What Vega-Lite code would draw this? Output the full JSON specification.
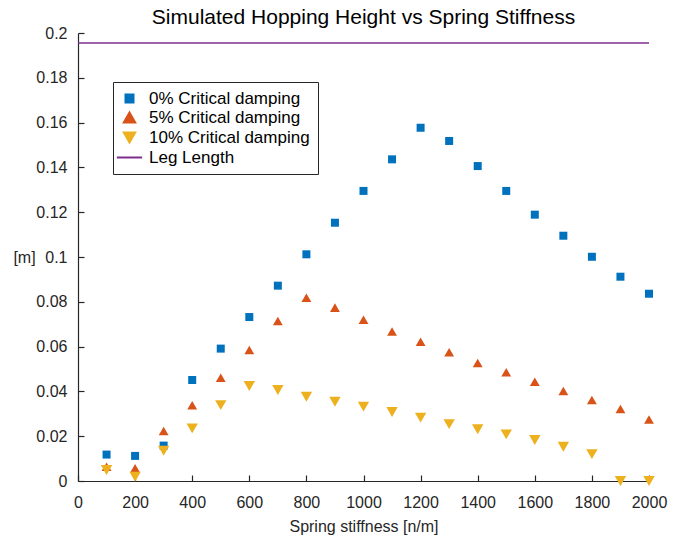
{
  "$schema": "https://vega.github.io/schema/vega-lite/v6.json",
  "autosize": {"type": "none"},
  "width": 571,
  "height": 448,
  "padding": {"left": 78, "top": 33, "right": 31, "bottom": 56},
  "background": "white",
  "config": {
    "font": "Liberation Sans",
    "view": {"stroke": null},
    "axis": {"grid": false, "domainColor": "#262626", "tickColor": "#262626", "labelColor": "#262626", "titleColor": "#262626", "labelFontSize": 16, "titleFontSize": 16, "titleFontWeight": "normal", "domainWidth": 1.2, "tickWidth": 1.2}
  },
  "title": {"text": "Simulated Hopping Height vs Spring Stiffness", "fontSize": 21, "fontWeight": "normal", "color": "#000000", "offset": -3, "anchor": "middle"},
  "data": {"values": [
    {"series": "0% Critical damping", "k": 100, "h": 0.0118},
    {"series": "0% Critical damping", "k": 200, "h": 0.0112},
    {"series": "0% Critical damping", "k": 300, "h": 0.0158},
    {"series": "0% Critical damping", "k": 400, "h": 0.0451},
    {"series": "0% Critical damping", "k": 500, "h": 0.0591},
    {"series": "0% Critical damping", "k": 600, "h": 0.0732},
    {"series": "0% Critical damping", "k": 700, "h": 0.0872},
    {"series": "0% Critical damping", "k": 800, "h": 0.1012},
    {"series": "0% Critical damping", "k": 900, "h": 0.1153},
    {"series": "0% Critical damping", "k": 1000, "h": 0.1295},
    {"series": "0% Critical damping", "k": 1100, "h": 0.1436},
    {"series": "0% Critical damping", "k": 1200, "h": 0.1577},
    {"series": "0% Critical damping", "k": 1300, "h": 0.1518},
    {"series": "0% Critical damping", "k": 1400, "h": 0.1406},
    {"series": "0% Critical damping", "k": 1500, "h": 0.1295},
    {"series": "0% Critical damping", "k": 1600, "h": 0.1189},
    {"series": "0% Critical damping", "k": 1700, "h": 0.1095},
    {"series": "0% Critical damping", "k": 1800, "h": 0.1001},
    {"series": "0% Critical damping", "k": 1900, "h": 0.0912},
    {"series": "0% Critical damping", "k": 2000, "h": 0.0836},
    {"series": "5% Critical damping", "k": 100, "h": 0.0064},
    {"series": "5% Critical damping", "k": 200, "h": 0.0057},
    {"series": "5% Critical damping", "k": 300, "h": 0.0223},
    {"series": "5% Critical damping", "k": 400, "h": 0.0338},
    {"series": "5% Critical damping", "k": 500, "h": 0.0461},
    {"series": "5% Critical damping", "k": 600, "h": 0.0585},
    {"series": "5% Critical damping", "k": 700, "h": 0.0714},
    {"series": "5% Critical damping", "k": 800, "h": 0.0818},
    {"series": "5% Critical damping", "k": 900, "h": 0.0774},
    {"series": "5% Critical damping", "k": 1000, "h": 0.0720},
    {"series": "5% Critical damping", "k": 1100, "h": 0.0667},
    {"series": "5% Critical damping", "k": 1200, "h": 0.0622},
    {"series": "5% Critical damping", "k": 1300, "h": 0.0575},
    {"series": "5% Critical damping", "k": 1400, "h": 0.0527},
    {"series": "5% Critical damping", "k": 1500, "h": 0.0485},
    {"series": "5% Critical damping", "k": 1600, "h": 0.0443},
    {"series": "5% Critical damping", "k": 1700, "h": 0.0402},
    {"series": "5% Critical damping", "k": 1800, "h": 0.0362},
    {"series": "5% Critical damping", "k": 1900, "h": 0.0321},
    {"series": "5% Critical damping", "k": 2000, "h": 0.0275},
    {"series": "10% Critical damping", "k": 100, "h": 0.0049},
    {"series": "10% Critical damping", "k": 200, "h": 0.0019},
    {"series": "10% Critical damping", "k": 300, "h": 0.0135},
    {"series": "10% Critical damping", "k": 400, "h": 0.0235},
    {"series": "10% Critical damping", "k": 500, "h": 0.0339},
    {"series": "10% Critical damping", "k": 600, "h": 0.0424},
    {"series": "10% Critical damping", "k": 700, "h": 0.0406},
    {"series": "10% Critical damping", "k": 800, "h": 0.0376},
    {"series": "10% Critical damping", "k": 900, "h": 0.0354},
    {"series": "10% Critical damping", "k": 1000, "h": 0.0332},
    {"series": "10% Critical damping", "k": 1100, "h": 0.0308},
    {"series": "10% Critical damping", "k": 1200, "h": 0.0283},
    {"series": "10% Critical damping", "k": 1300, "h": 0.0254},
    {"series": "10% Critical damping", "k": 1400, "h": 0.0231},
    {"series": "10% Critical damping", "k": 1500, "h": 0.0208},
    {"series": "10% Critical damping", "k": 1600, "h": 0.0183},
    {"series": "10% Critical damping", "k": 1700, "h": 0.0153},
    {"series": "10% Critical damping", "k": 1800, "h": 0.0120},
    {"series": "10% Critical damping", "k": 1900, "h": 0.0},
    {"series": "10% Critical damping", "k": 2000, "h": 0.0},
    {"series": "Leg Length", "k": 0, "k2": 2000, "h": 0.1955}
  ]},
  "layer": [
    {
      "transform": [{"filter": "datum.series === 'Leg Length'"}],
      "mark": {"type": "rule", "strokeWidth": 1.5},
      "encoding": {
        "x": {"field": "k", "type": "quantitative"},
        "x2": {"field": "k2"},
        "y": {"field": "h", "type": "quantitative"},
        "color": {"field": "series", "type": "nominal",
          "scale": {"domain": ["0% Critical damping", "5% Critical damping", "10% Critical damping", "Leg Length"], "range": ["#0072BD", "#D95319", "#EDB120", "#7E2F8E"]},
          "legend": {"title": null, "orient": "none", "legendX": 35, "legendY": 49, "strokeColor": "#262626", "fillColor": "white", "padding": 8, "labelFontSize": 17, "labelColor": "#000000", "labelLimit": 400, "rowPadding": 1, "symbolStrokeWidth": 2, "labelOffset": 11,
            "encode": {"symbols": {"enter": {"size": {"signal": "datum.value === 'Leg Length' ? 640 : datum.value === '0% Critical damping' ? 64 : 130"}}, "update": {"size": {"signal": "datum.value === 'Leg Length' ? 640 : datum.value === '0% Critical damping' ? 64 : 130"}, "stroke": {"signal": "datum.value === 'Leg Length' ? '#7E2F8E' : null"}}}}}}
      }
    },
    {
      "transform": [{"filter": "datum.series !== 'Leg Length'"}],
      "mark": {"type": "point", "filled": true, "opacity": 1, "clip": false},
      "encoding": {
        "x": {"field": "k", "type": "quantitative", "scale": {"domain": [0, 2000], "nice": false},
          "axis": {"values": [0,200,400,600,800,1000,1200,1400,1600,1800,2000], "format": "d", "labelFlush": false, "tickSize": -6, "labelPadding": 19, "title": "Spring stiffness [n/m]", "titlePadding": 8}},
        "y": {"field": "h", "type": "quantitative", "scale": {"domain": [0, 0.2], "nice": false},
          "axis": {"values": [0,0.02,0.04,0.06,0.08,0.1,0.12,0.14,0.16,0.18,0.2], "format": "~g", "labelFlush": false, "tickSize": -6, "labelPadding": 17, "title": "[m]", "titleAngle": 0, "titleX": -54, "titleY": 224, "titleAlign": "center", "titleBaseline": "middle"}},
        "size": {"field": "series", "type": "nominal", "legend": null,
          "scale": {"domain": ["0% Critical damping", "5% Critical damping", "10% Critical damping"], "range": [64, 130, 130]}},
        "color": {"field": "series", "type": "nominal",
          "scale": {"domain": ["0% Critical damping", "5% Critical damping", "10% Critical damping", "Leg Length"], "range": ["#0072BD", "#D95319", "#EDB120", "#7E2F8E"]},
          "legend": {"title": null, "orient": "none", "legendX": 35, "legendY": 49, "strokeColor": "#262626", "fillColor": "white", "padding": 8, "labelFontSize": 17, "labelColor": "#000000", "labelLimit": 400, "rowPadding": 1, "symbolStrokeWidth": 2, "labelOffset": 11,
            "encode": {"symbols": {"enter": {"size": {"signal": "datum.value === 'Leg Length' ? 640 : datum.value === '0% Critical damping' ? 64 : 130"}}, "update": {"size": {"signal": "datum.value === 'Leg Length' ? 640 : datum.value === '0% Critical damping' ? 64 : 130"}, "stroke": {"signal": "datum.value === 'Leg Length' ? '#7E2F8E' : null"}}}}}},
        "shape": {"field": "series", "type": "nominal",
          "scale": {"domain": ["0% Critical damping", "5% Critical damping", "10% Critical damping", "Leg Length"], "range": ["square", "triangle-up", "triangle-down", "stroke"]},
          "legend": {"title": null}}
      }
    }
  ],
  "resolve": {"scale": {"color": "shared"}}
}
